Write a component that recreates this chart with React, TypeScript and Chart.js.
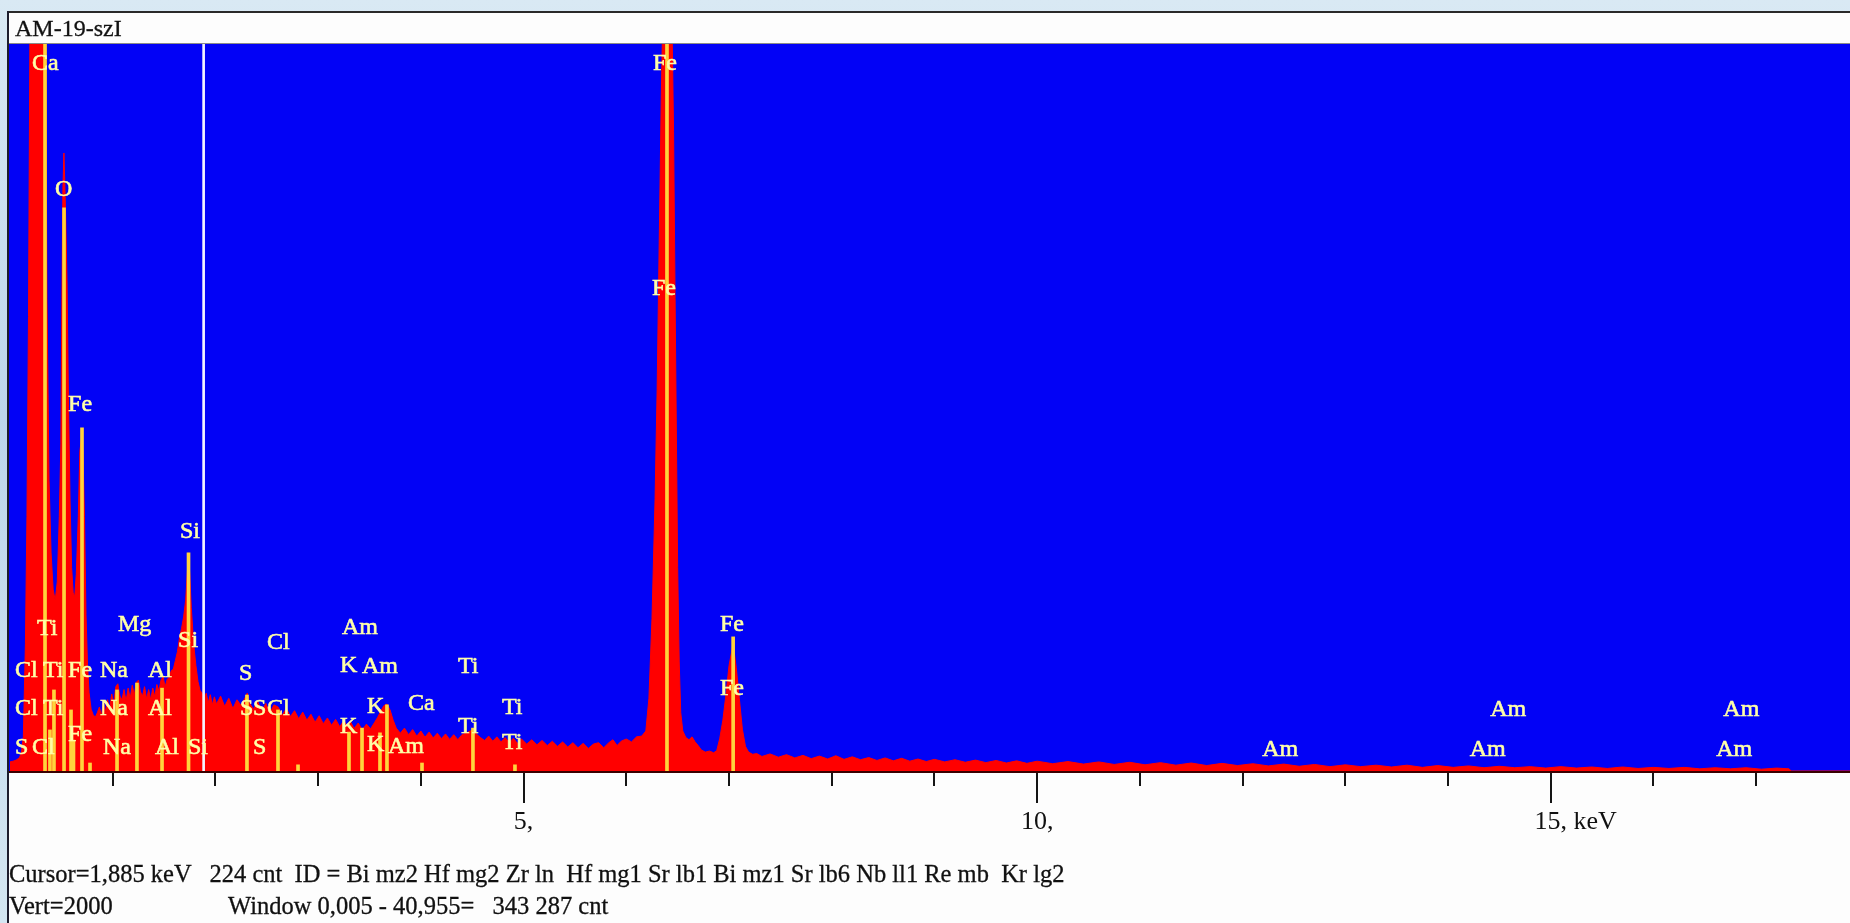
import React, { useEffect, useRef } from "react";
import { Chart, registerables } from "chart.js";

Chart.register(...registerables);

// ---------- data (energy keV, counts) ----------
const TITLE = "AM-19-szI";
const STATUS_LINE_1 =
  "Cursor=1,885 keV   224 cnt  ID = Bi mz2 Hf mg2 Zr ln  Hf mg1 Sr lb1 Bi mz1 Sr lb6 Nb ll1 Re mb  Kr lg2";
const STATUS_VERT = "Vert=2000";
const STATUS_WINDOW = "Window 0,005 - 40,955=   343 287 cnt";

const X_MIN = 0;
const X_MAX = 17.913;
const Y_MAX = 2000;
const CURSOR_KEV = 1.885;

const X_TICKS = [1, 2, 3, 4, 5, 6, 7, 8, 9, 10, 11, 12, 13, 14, 15, 16, 17];
const X_MAJOR_TICKS = [5, 10, 15];
const X_TICK_LABELS: [number, string][] = [
  [5, "5,"],
  [10, "10,"],
  [15, "15,"],
];
const X_UNIT = " keV";

const SPECTRUM_LOW: [number, number][] = [
  [0.0, 25], [0.03, 27], [0.06, 30], [0.09, 36], [0.11, 48], [0.13, 95], [0.15, 350],
  [0.165, 700], [0.18, 1250], [0.195, 2100], [0.21, 2600], [0.25, 2700], [0.29, 2700],
  [0.33, 2600], [0.345, 2200], [0.36, 1300], [0.38, 800], [0.4, 600], [0.42, 500],
  [0.44, 470], [0.46, 520], [0.48, 700], [0.495, 900], [0.505, 1300], [0.515, 1600],
  [0.525, 1700], [0.54, 1550], [0.555, 1350], [0.57, 1000], [0.585, 740], [0.6, 560],
  [0.615, 490], [0.63, 480], [0.645, 540], [0.665, 700], [0.68, 880], [0.695, 912],
  [0.71, 880], [0.725, 700], [0.74, 430], [0.755, 290], [0.77, 215], [0.79, 170],
  [0.81, 155], [0.83, 148], [0.85, 160],
];

const SPECTRUM_MID: [number, number][] = [
  [0.87, 176], [0.89, 152], [0.91, 190], [0.93, 162], [0.95, 196], [0.97, 170], [0.99, 212],
  [1.01, 186], [1.03, 232], [1.05, 240], [1.07, 206], [1.09, 196], [1.11, 224], [1.13, 192],
  [1.15, 228], [1.17, 200], [1.19, 236], [1.21, 210], [1.23, 244], [1.25, 250], [1.27, 218],
  [1.29, 206], [1.31, 232], [1.33, 198], [1.35, 224], [1.37, 196], [1.39, 228], [1.41, 204],
  [1.43, 238], [1.45, 220], [1.47, 250], [1.49, 260], [1.51, 232], [1.53, 252], [1.55, 258],
  [1.57, 276], [1.59, 280], [1.61, 304], [1.63, 328], [1.65, 366], [1.67, 392], [1.69, 424],
  [1.71, 470], [1.725, 540], [1.738, 600], [1.75, 540], [1.765, 450], [1.78, 385],
  [1.795, 330], [1.81, 290], [1.83, 246], [1.85, 222], [1.87, 214], [1.89, 196], [1.91, 214],
  [1.93, 188], [1.95, 210], [1.97, 182], [1.99, 204],
];

const SPECTRUM_MID2: [number, number][] = [
  [2.01, 184], [2.05, 206], [2.09, 178], [2.13, 200], [2.17, 172], [2.21, 196], [2.25, 180],
  [2.29, 202], [2.31, 214], [2.33, 188], [2.37, 170], [2.41, 192], [2.45, 164], [2.49, 186],
  [2.53, 160], [2.57, 182], [2.61, 176], [2.65, 154], [2.69, 172], [2.73, 150], [2.77, 166],
  [2.81, 144], [2.85, 162], [2.89, 140], [2.93, 156], [2.97, 134], [3.01, 152], [3.05, 130],
  [3.09, 146], [3.13, 126], [3.17, 142], [3.21, 122], [3.25, 138], [3.29, 120], [3.31, 138],
  [3.35, 117], [3.39, 132], [3.43, 113], [3.47, 129], [3.51, 116], [3.55, 134], [3.58, 148],
  [3.61, 165], [3.64, 180], [3.67, 184], [3.7, 168], [3.73, 140], [3.76, 118], [3.8, 104],
  [3.84, 118], [3.88, 100], [3.92, 114], [3.96, 96], [4.0, 110], [4.04, 93], [4.08, 107],
  [4.12, 91], [4.16, 104], [4.2, 89], [4.24, 102], [4.28, 87], [4.32, 100], [4.36, 86],
  [4.4, 100], [4.44, 104], [4.48, 110], [4.51, 114], [4.54, 102], [4.58, 92], [4.62, 84],
  [4.66, 96], [4.7, 82], [4.74, 94], [4.78, 80], [4.82, 92], [4.86, 78], [4.9, 90],
  [4.94, 76], [4.98, 88],
];

const SPECTRUM_FE: [number, number][] = [
  [5.03, 74], [5.08, 86], [5.13, 72], [5.18, 84], [5.23, 70], [5.28, 82], [5.33, 68],
  [5.38, 80], [5.43, 66], [5.48, 78], [5.53, 64], [5.58, 76], [5.63, 62], [5.68, 74],
  [5.73, 78], [5.78, 64], [5.83, 78], [5.87, 86], [5.91, 70], [5.95, 82], [6.0, 88],
  [6.05, 80], [6.1, 94], [6.15, 96], [6.19, 110], [6.22, 200], [6.25, 420], [6.28, 750],
  [6.3, 1050], [6.32, 1450], [6.34, 1850], [6.36, 2150], [6.39, 2700], [6.42, 2600],
  [6.44, 2150], [6.46, 1760], [6.475, 1300], [6.49, 850], [6.5, 560], [6.515, 300],
  [6.53, 160], [6.55, 110], [6.58, 92], [6.61, 86], [6.64, 94], [6.67, 80], [6.7, 70],
  [6.73, 58], [6.77, 52], [6.81, 55], [6.85, 50], [6.88, 56], [6.91, 90], [6.94, 140],
  [6.97, 210], [7.0, 290], [7.04, 350], [7.07, 285], [7.1, 200], [7.13, 115], [7.16, 68],
  [7.19, 52], [7.23, 46], [7.27, 48],
];

const SPECTRUM_TAIL: [number, number][] = [
  [7.32, 40], [7.4, 47], [7.48, 38], [7.56, 45], [7.64, 36], [7.72, 43], [7.8, 34],
  [7.88, 41], [7.96, 33], [8.04, 42], [8.12, 32], [8.2, 39], [8.28, 31], [8.36, 37],
  [8.44, 29], [8.52, 36], [8.6, 28], [8.68, 35], [8.76, 27], [8.84, 33], [8.92, 26],
  [9.0, 32], [9.1, 25], [9.2, 31], [9.3, 24], [9.4, 30], [9.5, 23], [9.6, 29], [9.7, 22],
  [9.8, 28], [9.9, 21], [10.0, 27], [10.15, 20], [10.3, 26], [10.45, 19], [10.6, 25],
  [10.75, 18], [10.9, 24], [11.05, 17], [11.2, 23], [11.35, 16], [11.5, 22], [11.65, 15],
  [11.8, 21], [11.95, 15], [12.1, 20], [12.25, 14], [12.4, 19], [12.55, 13], [12.7, 18],
  [12.85, 12], [13.0, 17], [13.15, 12], [13.3, 16], [13.45, 11], [13.6, 16], [13.75, 10],
  [13.9, 15], [14.05, 10], [14.2, 14], [14.35, 9], [14.5, 13], [14.65, 9], [14.8, 12],
  [14.95, 8], [15.1, 12], [15.25, 8], [15.4, 11], [15.55, 7], [15.7, 11], [15.85, 7],
  [16.0, 10], [16.15, 7], [16.3, 10], [16.45, 6], [16.6, 9], [16.75, 6], [16.9, 9],
  [17.05, 5], [17.2, 8], [17.32, 6], [17.34, 0], [17.913, 0],
];

// element marker lines: [keV, top count]
const MARKERS: [number, number][] = [
  [0.341, 2000], [0.389, 113], [0.428, 223], [0.526, 1549], [0.594, 168], [0.618, 85],
  [0.701, 944], [0.779, 22], [1.042, 223], [1.236, 242], [1.48, 228], [1.738, 600],
  [2.307, 209], [2.609, 168], [2.804, 17], [3.3, 107], [3.427, 118], [3.602, 105],
  [3.67, 182], [4.011, 22], [4.507, 118], [4.916, 17], [6.396, 2000], [7.04, 369],
];

// element labels: [text, keV of left edge, count at text middle]
const ELEMENT_LABELS: [string, number, number][] = [
  ["Ca", 0.214, 1945], ["O", 0.438, 1598], ["Fe", 0.565, 1007], ["Si", 1.655, 657],
  ["Ti", 0.263, 391], ["Mg", 1.051, 402], ["Si", 1.636, 358], ["Cl", 2.502, 352],
  ["Cl", 0.049, 275], ["Ti", 0.321, 275], ["Fe", 0.565, 275], ["Na", 0.876, 275],
  ["Al", 1.343, 275], ["S", 2.229, 267],
  ["Cl", 0.049, 171], ["Ti", 0.321, 171], ["Na", 0.876, 171], ["Al", 1.343, 171],
  ["S", 2.239, 171], ["S", 2.366, 171], ["Cl", 2.502, 171],
  ["S", 0.049, 63], ["Cl", 0.214, 63], ["Fe", 0.565, 99], ["Na", 0.905, 63],
  ["Al", 1.412, 63], ["Si", 1.733, 63], ["S", 2.366, 63],
  ["Am", 3.232, 393], ["K", 3.213, 289], ["Am", 3.427, 286], ["Ti", 4.361, 286],
  ["K", 3.476, 176], ["Ca", 3.875, 184], ["Ti", 4.79, 173], ["K", 3.213, 121],
  ["Ti", 4.361, 121], ["K", 3.476, 72], ["Am", 3.68, 66], ["Ti", 4.79, 77],
  ["Fe", 6.26, 1945], ["Fe", 6.25, 1326], ["Fe", 6.912, 402], ["Fe", 6.912, 226],
  ["Am", 12.19, 58], ["Am", 14.21, 58], ["Am", 14.41, 168], ["Am", 16.61, 58],
  ["Am", 16.68, 168],
];

const SPECTRUM = [
  ...SPECTRUM_LOW,
  ...SPECTRUM_MID,
  ...SPECTRUM_MID2,
  ...SPECTRUM_FE,
  ...SPECTRUM_TAIL,
];

const W = 1850;
const H = 923;
const PLOT_TOP = 44;
const PLOT_BOTTOM = 771;
const PLOT_LEFT = 10;
const SERIF = '"Liberation Serif", "Times New Roman", serif';

const edsPlugin = {
  id: "eds",
  beforeDatasetsDraw(chart: any) {
    const { ctx, chartArea } = chart;
    ctx.save();
    ctx.fillStyle = "#0202F6";
    ctx.fillRect(chartArea.left - 1, chartArea.top, chartArea.right - chartArea.left + 1, chartArea.bottom - chartArea.top);
    ctx.restore();
  },
  afterDatasetsDraw(chart: any) {
    const { ctx, chartArea } = chart;
    const xs = chart.scales.x;
    const ys = chart.scales.y;
    ctx.save();
    // element labels
    ctx.font = `24px ${SERIF}`;
    ctx.textAlign = "left";
    ctx.textBaseline = "middle";
    ctx.fillStyle = "#FFFFA8";
    ctx.strokeStyle = "#FFFFA8";
    ctx.lineWidth = 0.6;
    for (const [t, kev, cnt] of ELEMENT_LABELS) {
      const px = xs.getPixelForValue(kev);
      const py = ys.getPixelForValue(cnt);
      ctx.fillText(t, px, py);
      ctx.strokeText(t, px, py);
    }
    // baseline
    ctx.fillStyle = "#3a0000";
    ctx.fillRect(chartArea.left - 1, chartArea.bottom, chartArea.right - chartArea.left + 1, 2);
    // ticks
    ctx.fillStyle = "#151515";
    for (const t of X_TICKS) {
      const px = Math.round(xs.getPixelForValue(t));
      const major = X_MAJOR_TICKS.includes(t);
      ctx.fillRect(px - 1, chartArea.bottom + 2, 2, major ? 30 : 13);
    }
    // tick labels
    ctx.font = `26px ${SERIF}`;
    ctx.fillStyle = "#111";
    ctx.textBaseline = "middle";
    ctx.textAlign = "left";
    const lastTick = X_TICK_LABELS[X_TICK_LABELS.length - 1][0];
    for (const [v, lab] of X_TICK_LABELS) {
      const px = xs.getPixelForValue(v);
      const w = ctx.measureText(lab).width;
      ctx.fillText(v === lastTick ? lab + X_UNIT : lab, px - w / 2, chartArea.bottom + 51);
    }
    ctx.restore();
  },
};

export default function App() {
  const ref = useRef<HTMLCanvasElement | null>(null);
  useEffect(() => {
    const canvas = ref.current;
    if (!canvas) return;
    const chart = new Chart(canvas, {
      type: "line",
      data: {
        datasets: [
          {
            type: "bar",
            label: "markers",
            data: MARKERS.map(([x, y]) => ({ x, y })),
            backgroundColor: "#FFD43C",
            barThickness: 3,
            grouped: false,
            clip: 0,
            order: 0,
          } as any,
          {
            type: "bar",
            label: "cursor",
            data: [{ x: CURSOR_KEV, y: Y_MAX }],
            backgroundColor: "#F4F4FF",
            barThickness: 2,
            grouped: false,
            clip: 0,
            order: 0,
          } as any,
          {
            type: "line",
            label: "spectrum",
            data: SPECTRUM.map(([x, y]) => ({ x, y })),
            borderColor: "#FF0000",
            backgroundColor: "#FF0000",
            borderWidth: 1,
            pointRadius: 0,
            fill: "origin",
            tension: 0,
            clip: 0,
            order: 1,
          } as any,
        ],
      },
      options: {
        responsive: false,
        animation: false,
        events: [],
        layout: { padding: { left: PLOT_LEFT, top: PLOT_TOP, right: 0, bottom: H - PLOT_BOTTOM } },
        scales: {
          x: { type: "linear", min: X_MIN, max: X_MAX, display: false, offset: false },
          y: { type: "linear", min: 0, max: Y_MAX, display: false },
        },
        plugins: { legend: { display: false }, tooltip: { enabled: false } },
      },
      plugins: [edsPlugin],
    });
    return () => chart.destroy();
  }, []);

  const textStyle: React.CSSProperties = {
    position: "absolute",
    fontFamily: SERIF,
    fontSize: 24.5,
    color: "#111",
    whiteSpace: "pre",
    lineHeight: "28px",
    WebkitTextStroke: "0.3px #111",
  };

  return (
    <div
      style={{
        position: "absolute",
        left: 0,
        top: 0,
        width: W,
        height: H,
        overflow: "hidden",
        background: "linear-gradient(180deg, #d9e9f4 0%, #bcd6ea 45%, #d4e6f2 100%)",
      }}
    >
      {/* title bar */}
      <div
        style={{
          position: "absolute",
          left: 8,
          top: 11,
          width: W - 8,
          height: 30,
          background: "#fdfdfd",
          borderTop: "2px solid #2a2a2a",
          borderBottom: "1px solid #8a8a8a",
        }}
      />
      {/* dark left border */}
      <div style={{ position: "absolute", left: 7, top: 11, width: 2, height: H - 11, background: "#1c1c2c" }} />
      {/* white lower panel */}
      <div style={{ position: "absolute", left: 9, top: PLOT_BOTTOM, width: W - 9, height: H - PLOT_BOTTOM, background: "#fdfdfd" }} />
      <canvas
        ref={ref}
        width={W}
        height={H}
        style={{ position: "absolute", left: 0, top: 0, width: W, height: H }}
      />
      <div style={{ ...textStyle, left: 15, top: 14, fontSize: 24, lineHeight: "28px" }}>{TITLE}</div>
      <div style={{ ...textStyle, left: 9, top: 860 }}>{STATUS_LINE_1}</div>
      <div style={{ ...textStyle, left: 9, top: 892 }}>{STATUS_VERT}</div>
      <div style={{ ...textStyle, left: 228, top: 892 }}>{STATUS_WINDOW}</div>
    </div>
  );
}
